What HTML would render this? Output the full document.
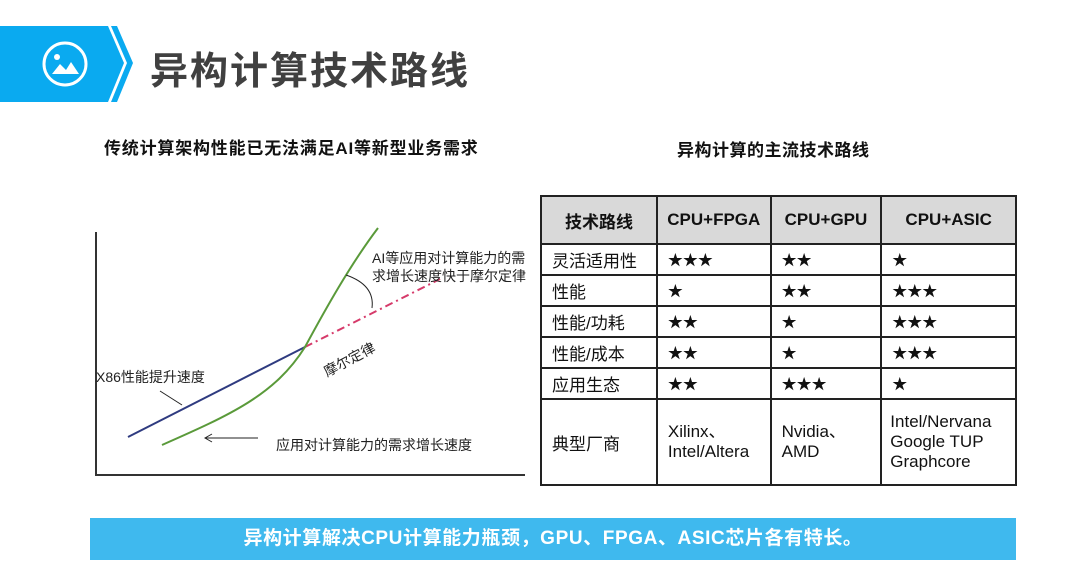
<!DOCTYPE html>
<html><head><meta charset="utf-8"><style>
body{margin:0;width:1080px;height:575px;background:#fff;position:relative;overflow:hidden;font-family:"Liberation Sans","Noto Sans CJK SC",sans-serif}
.abs{position:absolute}
table{border-collapse:collapse;position:absolute;left:540px;top:195px;width:477px;font-size:17px;color:#111;border:2.5px solid #222}
td{border:2px solid #222;padding:0 0 0 10px;height:29px}
td.s{font-size:15px}
tr.h td{background:#d9d9d9;font-weight:bold;text-align:center;height:46px;padding:0;font-size:17px}
</style></head><body>
<svg class="abs" style="left:0;top:0" width="140" height="110">
<polygon points="0,26 108,26 124,63 108,102 0,102" fill="#0aaaf0"/>
<polygon points="111,26 117,26 133,63 117,102 111,102 127,63" fill="#0aaaf0"/>
<circle cx="65" cy="64" r="21" fill="none" stroke="#fff" stroke-width="3"/>
<circle cx="57" cy="57" r="3" fill="#fff"/>
<polygon points="52,74 60,64 66,70 71,62 79,74" fill="#fff"/>
</svg>
<div class="abs" style="left:150px;top:40px;font-size:38px;font-weight:bold;color:#404040;letter-spacing:2px">异构计算技术路线</div>
<div class="abs" style="left:104px;top:134px;font-size:17px;font-weight:bold;color:#111;letter-spacing:0.8px">传统计算架构性能已无法满足AI等新型业务需求</div>
<div class="abs" style="left:677px;top:136px;font-size:17px;font-weight:bold;color:#111;letter-spacing:0.5px">异构计算的主流技术路线</div>
<svg class="abs" style="left:0;top:0" width="540" height="500">
<path d="M96,232 V475 H525" fill="none" stroke="#333" stroke-width="2"/>
<line x1="128" y1="437" x2="305" y2="347" stroke="#2f3b80" stroke-width="2"/>
<line x1="305" y1="347" x2="440" y2="279" stroke="#d63a6a" stroke-width="2" stroke-dasharray="8,4,2,4"/>
<path d="M162,445 C230,415 275,395 305,347 C325,310 350,265 378,228" fill="none" stroke="#5a9a3a" stroke-width="2"/>
<path d="M346,275 Q375,285 372,308" fill="none" stroke="#222" stroke-width="1"/>
<path d="M160,391 L182,405" stroke="#222" stroke-width="1"/>
<path d="M205,438 L258,438" stroke="#222" stroke-width="1"/>
<path d="M212,434 L205,438 L212,442" fill="none" stroke="#222"/>
<text x="96" y="382" font-size="14" fill="#222">X86性能提升速度</text>
<text x="372" y="263" font-size="14" fill="#222">AI等应用对计算能力的需</text>
<text x="372" y="281" font-size="14" fill="#222">求增长速度快于摩尔定律</text>
<text x="276" y="450" font-size="14" fill="#222">应用对计算能力的需求增长速度</text>
<text x="0" y="0" font-size="14" fill="#222" transform="translate(327,377) rotate(-28)">摩尔定律</text>
</svg>
<table>
<colgroup><col style="width:117px"><col style="width:114px"><col style="width:111px"><col style="width:135px"></colgroup>
<tr class="h"><td>技术路线</td><td>CPU+FPGA</td><td>CPU+GPU</td><td>CPU+ASIC</td></tr>
<tr><td>灵活适用性</td><td class="s">★★★</td><td class="s">★★</td><td class="s">★</td></tr>
<tr><td>性能</td><td class="s">★</td><td class="s">★★</td><td class="s">★★★</td></tr>
<tr><td>性能/功耗</td><td class="s">★★</td><td class="s">★</td><td class="s">★★★</td></tr>
<tr><td>性能/成本</td><td class="s">★★</td><td class="s">★</td><td class="s">★★★</td></tr>
<tr><td>应用生态</td><td class="s">★★</td><td class="s">★★★</td><td class="s">★</td></tr>
<tr><td style="height:84px">典型厂商</td><td style="line-height:20px">Xilinx、<br>Intel/Altera</td><td style="line-height:20px">Nvidia、<br>AMD</td><td style="line-height:20px;padding-left:8px">Intel/Nervana<br>Google TUP<br>Graphcore</td></tr>
</table>
<div class="abs" style="left:90px;top:518px;width:926px;height:42px;background:#3fb9ee;color:#fff;font-size:19px;font-weight:bold;text-align:center;line-height:42px;letter-spacing:0.6px">异构计算解决CPU计算能力瓶颈，GPU、FPGA、ASIC芯片各有特长。</div>
</body></html>
